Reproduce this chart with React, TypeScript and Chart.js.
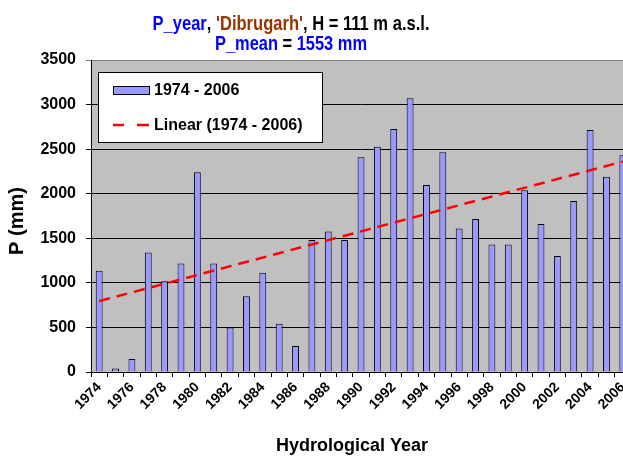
import React, { useEffect, useRef } from 'react';
import { Chart, registerables } from 'chart.js';

Chart.register(...registerables);

const years = [
  '1974', '1975', '1976', '1977', '1978', '1979', '1980', '1981', '1982', '1983',
  '1984', '1985', '1986', '1987', '1988', '1989', '1990', '1991', '1992', '1993',
  '1994', '1995', '1996', '1997', '1998', '1999', '2000', '2001', '2002', '2003',
  '2004', '2005', '2006',
];

const precip = [
  1135, 38, 146, 1341, 1019, 1218, 2240, 1218, 499, 850,
  1112, 540, 292, 1480, 1577, 1480, 2409, 2528, 2727, 3072,
  2098, 2465, 1611, 1716, 1431, 1431, 2038, 1659, 1300, 1918,
  2716, 2191, 2431,
];

const trendStart = 795;
const trendEnd = 2360;

const yMin = 0;
const yMax = 3500;
const yStep = 500;

const seriesLabel = '1974 - 2006';
const trendLabel = 'Linear (1974 - 2006)';
const xTitle = 'Hydrological Year';
const yTitle = 'P (mm)';

const titleLine1 = [
  { text: 'P_year', color: '#0000FF' },
  { text: ', ', color: '#000000' },
  { text: "'Dibrugarh'", color: '#993300' },
  { text: ', H = 111 m a.s.l.', color: '#000000' },
];
const titleLine2 = [
  { text: 'P_mean', color: '#0000FF' },
  { text: ' = ', color: '#000000' },
  { text: '1553 mm', color: '#0000FF' },
];

const FONT = "'Liberation Sans', Arial, sans-serif";

function drawRich(ctx: CanvasRenderingContext2D, parts: { text: string; color: string }[], cx: number, baseline: number, font: string, targetWidth: number) {
  ctx.save();
  ctx.font = font;
  const widths = parts.map((p) => ctx.measureText(p.text).width);
  const total = widths.reduce((a, b) => a + b, 0);
  const sx = targetWidth / total;
  ctx.translate(cx - targetWidth / 2, baseline);
  ctx.scale(sx, 1);
  ctx.textAlign = 'left';
  ctx.textBaseline = 'alphabetic';
  let x = 0;
  parts.forEach((p, i) => {
    ctx.fillStyle = p.color;
    ctx.fillText(p.text, x, 0);
    x += widths[i];
  });
  ctx.restore();
}

const decorPlugin = {
  id: 'decor',
  beforeDraw(chart: any) {
    const { ctx, chartArea, width, height } = chart;
    ctx.save();
    ctx.fillStyle = '#FFFFFF';
    ctx.fillRect(0, 0, width, height);
    ctx.fillStyle = '#C0C0C0';
    ctx.fillRect(chartArea.left, chartArea.top, chartArea.right - chartArea.left, chartArea.bottom - chartArea.top);
    ctx.restore();
  },
  afterDraw(chart: any) {
    const { ctx } = chart;
    drawRich(ctx, titleLine1, 291, 29.5, `bold 21px ${FONT}`, 277);
    drawRich(ctx, titleLine2, 291, 50, `bold 21px ${FONT}`, 152);

    ctx.save();
    ctx.fillStyle = '#000';
    ctx.font = `bold 18px ${FONT}`;
    ctx.textAlign = 'center';
    ctx.textBaseline = 'alphabetic';
    ctx.fillText(xTitle, 352, 451);
    ctx.translate(23, 221);
    ctx.rotate(-Math.PI / 2);
    ctx.font = `bold 20px ${FONT}`;
    ctx.fillText(yTitle, 0, 0);
    ctx.restore();

    ctx.save();
    ctx.fillStyle = '#FFFFFF';
    ctx.fillRect(98, 72, 224, 70);
    ctx.strokeStyle = '#000';
    ctx.lineWidth = 1;
    ctx.strokeRect(98.5, 72.5, 224, 70);
    ctx.fillStyle = '#9999FF';
    ctx.fillRect(113, 86, 36, 8);
    ctx.strokeRect(113.5, 86.5, 36, 8);
    ctx.strokeStyle = '#FF0000';
    ctx.lineWidth = 2.5;
    ctx.beginPath();
    ctx.moveTo(113, 125);
    ctx.lineTo(124, 125);
    ctx.moveTo(137, 125);
    ctx.lineTo(149, 125);
    ctx.stroke();
    ctx.fillStyle = '#000';
    ctx.font = `bold 16px ${FONT}`;
    ctx.textAlign = 'left';
    ctx.textBaseline = 'middle';
    ctx.fillText(seriesLabel, 154, 91);
    ctx.fillText(trendLabel, 154, 126);
    ctx.restore();
  },
};

export default function App() {
  const ref = useRef<HTMLCanvasElement>(null);
  useEffect(() => {
    document.body.style.overflow = 'hidden';
    const canvas = ref.current!;
    const trendData = years.map((_, i) => (i === 0 ? trendStart : i === years.length - 1 ? trendEnd : null));
    const chart = new Chart(canvas, {
      type: 'bar',
      data: {
        labels: years,
        datasets: [
          {
            type: 'line',
            label: trendLabel,
            data: trendData as any,
            borderColor: '#FF0000',
            borderWidth: 2.5,
            borderDash: [11, 7],
            pointRadius: 0,
            spanGaps: true,
            fill: false,
            order: 0,
          } as any,
          {
            type: 'bar',
            label: seriesLabel,
            data: precip,
            backgroundColor: '#9999FF',
            borderColor: '#000000',
            borderWidth: 1,
            barPercentage: 0.42,
            categoryPercentage: 1,
            order: 1,
          },
        ],
      },
      options: {
        responsive: false,
        animation: false,
        devicePixelRatio: 1,
        layout: { padding: { top: 60, left: 0, right: 9, bottom: 0 } },
        plugins: {
          legend: { display: false },
          tooltip: { enabled: false },
          title: { display: false },
        },
        scales: {
          x: {
            offset: true,
            grid: {
              offset: true,
              drawOnChartArea: false,
              drawTicks: true,
              tickLength: 5,
              color: '#000000',
            },
            border: { display: true, color: '#000000', width: 1 },
            ticks: {
              autoSkip: false,
              maxRotation: 45,
              minRotation: 45,
              padding: 2,
              color: '#000000',
              font: { family: FONT, size: 14, weight: 'bold' },
              callback: (_v: any, i: number) => (i % 2 === 0 ? years[i] : ''),
            },
            afterFit: (scale: any) => {
              scale.height = 85;
            },
          },
          y: {
            min: yMin,
            max: yMax,
            ticks: {
              stepSize: yStep,
              padding: 10,
              color: '#000000',
              font: { family: FONT, size: 16, weight: 'bold' },
              callback: (v: any) => String(v),
            },
            grid: {
              color: (c: any) => (c.tick && c.tick.value === yMax ? '#808080' : '#000000'),
              tickLength: 5,
              drawTicks: true,
            },
            border: { display: true, color: '#000000', width: 1 },
            afterFit: (scale: any) => {
              scale.width = 91;
            },
          },
        },
      },
      plugins: [decorPlugin],
    });
    return () => chart.destroy();
  }, []);
  return (
    <div style={{ position: 'fixed', left: 0, top: 0, width: 640, height: 457 }}>
      <canvas ref={ref} width={640} height={457} style={{ width: 640, height: 457, display: 'block' }} />
    </div>
  );
}
